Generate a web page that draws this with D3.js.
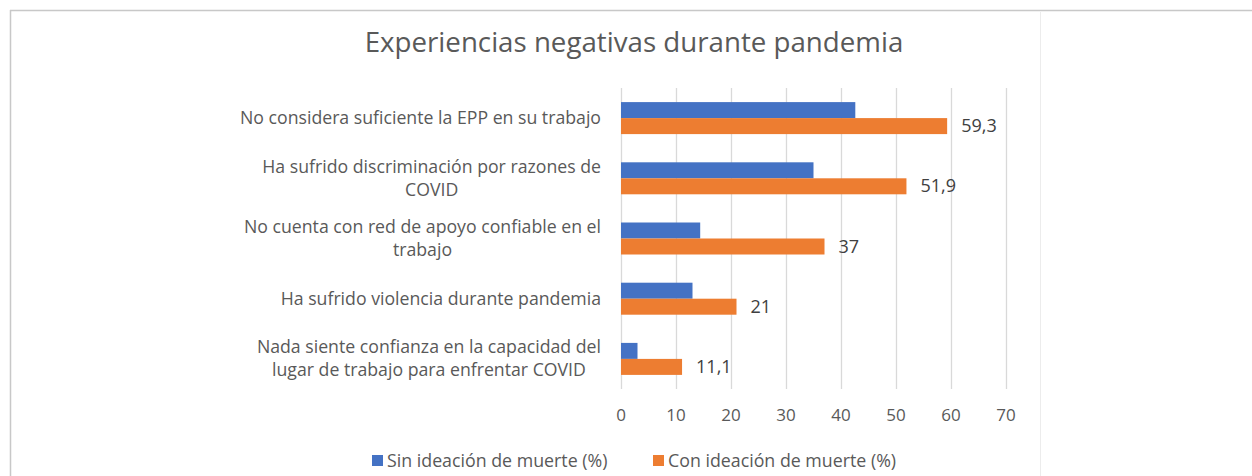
<!DOCTYPE html>
<html>
<head>
<meta charset="utf-8">
<script src="https://cdn.jsdelivr.net/npm/d3@7"></script>
<style>
  body { margin: 0; background: #fff; }
  svg { font-family: "Open Sans", Lato, sans-serif; }
</style>
</head>
<body>
<svg id="chart" width="1252" height="476"></svg>
<script>
// data
var categories = [
  ['No considera suficiente la EPP en su trabajo'],
  ['Ha sufrido discriminación por razones de', 'COVID'],
  ['No cuenta con red de apoyo confiable en el', 'trabajo'],
  ['Ha sufrido violencia durante pandemia'],
  ['Nada siente confianza en la capacidad del', 'lugar de trabajo para enfrentar COVID']
];
var sinIdeacion = [42.6, 35, 14.4, 13, 3];
var conIdeacion = [59.3, 51.9, 37, 21, 11.1];
var conLabels = ['59,3', '51,9', '37', '21', '11,1'];
var seriesNames = ['Sin ideación de muerte (%)', 'Con ideación de muerte (%)'];
var xTicks = [0, 10, 20, 30, 40, 50, 60, 70];

var blue = '#4472C4', orange = '#ED7D31';

var svg = d3.select('#chart');

// outer frame
svg.append('line').attr('x1', 10).attr('x2', 1252).attr('y1', 10.5).attr('y2', 10.5)
   .attr('stroke', '#c8c8c8').attr('stroke-width', 1.5);
svg.append('line').attr('x1', 10.5).attr('x2', 10.5).attr('y1', 10).attr('y2', 476)
   .attr('stroke', '#c8c8c8').attr('stroke-width', 1.5);
svg.append('line').attr('x1', 1040.5).attr('x2', 1040.5).attr('y1', 12).attr('y2', 476)
   .attr('stroke', '#ececec');

svg.append('text')
   .attr('x', 634).attr('y', 52)
   .attr('text-anchor', 'middle')
   .style('font-size', '27.7px').style('fill', '#595959')
   .text('Experiencias negativas durante pandemia');

var x = d3.scaleLinear().domain([0, 70]).range([621, 1006]);
var y = d3.scaleBand().domain(d3.range(categories.length)).range([88, 389]);
var barH = 16;

// gridlines
svg.append('g').selectAll('line').data(xTicks).enter().append('line')
   .attr('x1', function (d) { return Math.round(x(d)) + 0.5; })
   .attr('x2', function (d) { return Math.round(x(d)) + 0.5; })
   .attr('y1', 88).attr('y2', 389)
   .attr('stroke', '#d9d9d9').attr('stroke-width', 1.3);

// tick labels
svg.append('g').selectAll('text').data(xTicks).enter().append('text')
   .attr('x', function (d) { return x(d); })
   .attr('y', 421)
   .attr('text-anchor', 'middle')
   .style('font-size', '17px').style('fill', '#595959')
   .text(function (d) { return d; });

// bars
var groups = svg.append('g').selectAll('g').data(categories).enter().append('g');

groups.append('rect')
   .attr('x', x(0))
   .attr('y', function (d, i) { return y(i) + y.bandwidth() / 2 - barH; })
   .attr('width', function (d, i) { return x(sinIdeacion[i]) - x(0); })
   .attr('height', barH)
   .style('fill', blue);

groups.append('rect')
   .attr('x', x(0))
   .attr('y', function (d, i) { return y(i) + y.bandwidth() / 2; })
   .attr('width', function (d, i) { return x(conIdeacion[i]) - x(0); })
   .attr('height', barH)
   .style('fill', orange);

// data labels on orange bars
groups.append('text')
   .attr('x', function (d, i) { return x(conIdeacion[i]) + 14; })
   .attr('y', function (d, i) { return y(i) + y.bandwidth() / 2 + barH / 2 + 6; })
   .style('font-size', '18px').style('fill', '#404040')
   .text(function (d, i) { return conLabels[i]; });

// category labels
groups.each(function (lines, i) {
  var cy = y(i) + y.bandwidth() / 2;
  var t = d3.select(this).append('text')
     .attr('text-anchor', 'end')
     .style('font-size', '17.7px').style('fill', '#595959');
  lines.forEach(function (line, k) {
    var off = (k - (lines.length - 1) / 2) * 23;
    t.append('tspan')
     .attr('x', 601)
     .attr('y', cy + off + 6)
     .text(line);
  });
});

// second line of a wrapped label sits centred under the first
groups.each(function (lines) {
  if (lines.length < 2) return;
  var spans = d3.select(this).selectAll('tspan').nodes();
  var w0 = spans[0].getComputedTextLength();
  var w1 = spans[1].getComputedTextLength();
  d3.select(spans[1]).attr('x', 601 - (w0 - w1) / 2);
});

// legend
var legend = svg.append('g');
var legendX = [372, 653];
seriesNames.forEach(function (name, i) {
  legend.append('rect')
     .attr('x', legendX[i]).attr('y', 455)
     .attr('width', 11).attr('height', 11)
     .style('fill', i === 0 ? blue : orange);
  legend.append('text')
     .attr('x', legendX[i] + 15).attr('y', 467)
     .style('font-size', '17.8px').style('fill', '#595959')
     .text(name);
});
</script>
</body>
</html>
